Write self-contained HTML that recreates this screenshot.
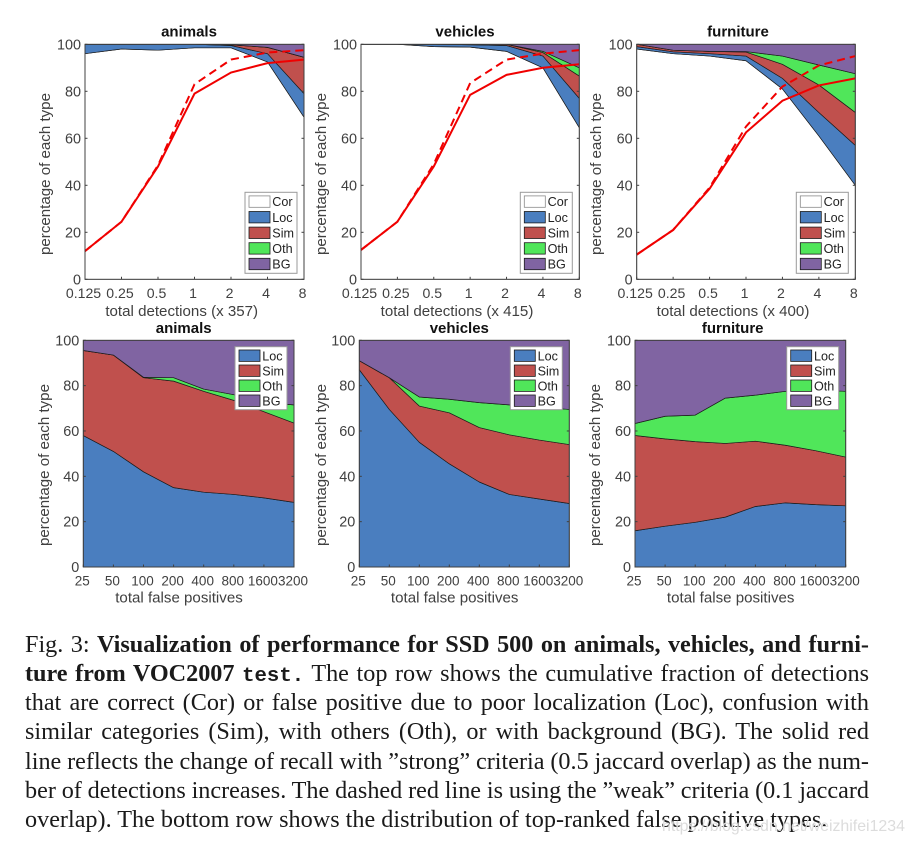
<!DOCTYPE html>
<html lang="en">
<head>
<meta charset="utf-8">
<title>SSD 500 performance visualization</title>
<style>
html,body{margin:0;padding:0;background:#fff;}
#page{position:relative;width:914px;height:845px;overflow:hidden;background:#fff;}
#charts{position:absolute;left:0;top:0;filter:blur(0.35px);}
svg text{font-family:"Liberation Sans",sans-serif;fill:#404040;}
.cap{position:absolute;left:25px;width:844px;font-family:"Liberation Serif",serif;font-size:24.2px;line-height:29px;color:#1a1a1a;text-align:justify;text-align-last:justify;white-space:normal;word-spacing:-1.5px;filter:blur(0.3px);}
.cap.last{text-align-last:left;white-space:nowrap;word-spacing:0;}
.cap tt{font-family:"Liberation Mono",monospace;font-size:20.7px;font-weight:bold;}
#watermark{position:absolute;left:662px;top:818px;font-family:"Liberation Sans",sans-serif;font-size:15.9px;color:#dcdcdc;white-space:nowrap;}
</style>
</head>
<body>
<div id="page">
<svg id="charts" width="914" height="620" xmlns="http://www.w3.org/2000/svg"></svg>
<div class="cap" style="top:629.5px">Fig. 3: <b>Visualization of performance for SSD 500 on animals, vehicles, and furni-</b></div>
<div class="cap" style="top:658.5px"><b>ture from VOC2007 <tt>test.</tt></b> The top row shows the cumulative fraction of detections</div>
<div class="cap" style="top:688px">that are correct (Cor) or false positive due to poor localization (Loc), confusion with</div>
<div class="cap" style="top:717px">similar categories (Sim), with others (Oth), or with background (BG). The solid red</div>
<div class="cap" style="top:746.5px">line reflects the change of recall with ”strong” criteria (0.5 jaccard overlap) as the num-</div>
<div class="cap" style="top:775.5px">ber of detections increases. The dashed red line is using the ”weak” criteria (0.1 jaccard</div>
<div class="cap last" style="top:804.5px">overlap). The bottom row shows the distribution of top-ranked false positive types.</div>
<div id="watermark">https://blog.csdn.net/weizhifei1234</div>
</div>
<script>
// Category and tick labels
const detectionTicks = ['0.125','0.25','0.5','1','2','4','8'];
const falsePositiveTicks = ['25','50','100','200','400','800','1600','3200'];
const percentTicks = [0,20,40,60,80,100];
const topLegend = ['Cor','Loc','Sim','Oth','BG'];
const bottomLegend = ['Loc','Sim','Oth','BG'];

// Top row: share of each detection type (%)
const animalsTopCor = [96,98,97.5,98.5,98.5,92.5,69];
const animalsTopLoc = [4,2,2.5,1.5,1,3.5,10];
const animalsTopSim = [0,0,0,0,0.3,2.7,15.5];
const animalsTopOth = [0,0,0,0,0,0,0];
const animalsTopBg = [0,0,0,0,0.2,1.3,5.5];
const animalsStrong = [12,24.5,48,79,88,92,93.5];
const animalsWeak = [12,24.5,48.5,83,93.5,96.5,97.5];

const vehiclesTopCor = [100,100,99,98.8,97,90,64.5];
const vehiclesTopLoc = [0,0,1,1,2.5,5,12.5];
const vehiclesTopSim = [0,0,0,0.2,0.5,1.5,9.5];
const vehiclesTopOth = [0,0,0,0,0,0.5,3.5];
const vehiclesTopBg = [0,0,0,0,0,3,10];
const vehiclesStrong = [12.5,24.5,48,78.5,87,90,91.5];
const vehiclesWeak = [12.5,24.5,49,83.5,93.5,96,97.5];

const furnitureTopCor = [98,96,95,93,81,61,40];
const furnitureTopLoc = [1,0.8,1,2,4.5,10,17];
const furnitureTopSim = [1,0.7,1,1.7,6,11.7,14];
const furnitureTopOth = [0,0,0,0.2,3.5,8.5,16.5];
const furnitureTopBg = [0,2.5,3,3.1,5,8.8,12.5];
const furnitureStrong = [10.5,21,38.5,62.5,76,82.5,85.5];
const furnitureWeak = [10.5,21,39,65,82,91,95];

// Bottom row: share of each false positive type (%)
const animalsFpLoc = [58,51,42,35,33,32,30.5,28.5];
const animalsFpSim = [37.5,42.5,41.5,47,44.5,41.5,38,35];
const animalsFpOth = [0,0,0.2,1.5,1,2.5,4,8];
const animalsFpBg = [4.5,6.5,16.3,16.5,21.5,24,27.5,28.5];

const vehiclesFpLoc = [87,69.5,55,45.5,37.5,32,30,28];
const vehiclesFpSim = [4,14,16,22.5,24,26.3,26,26];
const vehiclesFpOth = [0,0,4,6,11,13.2,14.5,15.5];
const vehiclesFpBg = [9,16.5,25,26,27.5,28.5,29.5,30.5];

const furnitureFpLoc = [16,18,19.7,22,26.7,28.3,27.5,27];
const furnitureFpSim = [42,38.5,35.6,32.5,28.8,25.4,23.8,21.5];
const furnitureFpOth = [5.3,10,11.7,20,20.3,23.8,26.7,29];
const furnitureFpBg = [36.7,33.5,33,25.5,24.2,22.5,22,22.5];

const colors = {Cor:'#ffffff',Loc:'#4a7ebf',Sim:'#c0504d',Oth:'#50e65a',BG:'#8064a2'};
const svg = document.getElementById('charts');
const NS = 'http://www.w3.org/2000/svg';

function make(tag, attrs, text){
  const el = document.createElementNS(NS, tag);
  for (const k in attrs) el.setAttribute(k, attrs[k]);
  if (text !== undefined) el.textContent = text;
  svg.appendChild(el);
  return el;
}

function drawPanel(p){
  const count = p.ticks.length;
  const xAt = i => p.x0 + i * (p.x1 - p.x0) / (count - 1);
  const yAt = v => p.y1 - v * (p.y1 - p.y0) / 100;

  // stacked areas
  let lower = p.ticks.map(() => 0);
  p.layers.forEach(layer => {
    const upper = lower.map((v, i) => v + layer.values[i]);
    const pts = upper.map((v, i) => xAt(i).toFixed(2) + ',' + yAt(v).toFixed(2));
    for (let i = count - 1; i >= 0; i--) pts.push(xAt(i).toFixed(2) + ',' + yAt(lower[i]).toFixed(2));
    const area = make('polygon', {points: pts.join(' '), fill: colors[layer.name], stroke: '#1c1c1c', 'stroke-width': 0.7, 'stroke-linejoin': 'round'});
    
    
    lower = upper;
  });

  // recall lines
  if (p.weak) {
    const weak = make('polyline', {points: p.weak.map((v, i) => xAt(i).toFixed(2) + ',' + yAt(v).toFixed(2)).join(' '), fill: 'none', stroke: '#f00000', 'stroke-width': 2, 'stroke-dasharray': '8 5'});
    
    
  }
  if (p.strong) {
    const strong = make('polyline', {points: p.strong.map((v, i) => xAt(i).toFixed(2) + ',' + yAt(v).toFixed(2)).join(' '), fill: 'none', stroke: '#f00000', 'stroke-width': 2});
    
    
  }

  // axes box
  const box = make('rect', {x: p.x0, y: p.y0, width: p.x1 - p.x0, height: p.y1 - p.y0, fill: 'none', stroke: '#404040', 'stroke-width': 1});
  
  

  // x ticks
  p.ticks.forEach((label, i) => {
    const x = xAt(i);
    const mark = make('line', {x1: x, x2: x, y1: p.y1, y2: p.y1 - 2.5, stroke: '#404040', 'stroke-width': 1});
    
    
    const t = make('text', {x: x + p.tickShift, y: p.y1 + 18.5, 'font-size': p.tickSize, 'text-anchor': 'middle'}, label);
    
    
  });

  // y ticks
  percentTicks.forEach(v => {
    const y = yAt(v);
    const left = make('line', {x1: p.x0, x2: p.x0 + 2.5, y1: y, y2: y, stroke: '#404040', 'stroke-width': 1});
    
    
    const right = make('line', {x1: p.x1, x2: p.x1 - 2.5, y1: y, y2: y, stroke: '#404040', 'stroke-width': 1});
    
    
    const t = make('text', {x: p.x0 - 4, y: y + 5, 'font-size': 14.4, 'text-anchor': 'end'}, String(v));
    
    
  });

  // titles
  const title = make('text', {x: p.titleX, y: p.titleY, 'font-size': 15, 'font-weight': 'bold', 'text-anchor': 'middle', style: 'fill:#111'}, p.title);
  
  
  const xLabel = make('text', {x: p.xLabelX, y: p.xLabelY, 'font-size': 15.1, 'text-anchor': 'middle'}, p.xLabel);
  
  
  const yLabel = make('text', {x: 0, y: 0, 'font-size': 15.1, 'text-anchor': 'middle', transform: 'translate(' + p.yLabelX + ',' + p.yLabelY + ') rotate(-90)'}, 'percentage of each type');
  
  

  // legend
  const rows = p.legend.length;
  const rowH = p.legendRow;
  const bw = 52, bh = rows * rowH + 3;
  const bx = p.x1 - 7 - bw, by = p.legendTop;
  const frame = make('rect', {x: bx, y: by, width: bw, height: bh, fill: '#fff', stroke: '#9a9a9a', 'stroke-width': 1});
  
  
  p.legend.forEach((name, i) => {
    const cy = by + 1.5 + rowH * (i + 0.5);
    const sw = make('rect', {x: bx + 4, y: cy - 5.7, width: 21, height: 11.4, fill: colors[name], stroke: name === 'Cor' ? '#8a8a8a' : '#1c1c1c', 'stroke-width': 0.8});
    
    
    const t = make('text', {x: bx + 27.3, y: cy + 4.6, 'font-size': 12.6, style: 'fill:#222'}, name);
    
    
  });
}

const TOP = {y0: 44.3, y1: 279.3, ticks: detectionTicks, legend: topLegend, legendRow: 15.6, legendTop: 192.3, titleY: 36.5, xLabelY: 316, yLabelY: 174, tickSize: 14.1, tickShift: -1.5};
const BOT = {y0: 340.3, y1: 567, ticks: falsePositiveTicks, legend: bottomLegend, legendRow: 15, legendTop: 346.7, titleY: 333, xLabelY: 602.5, yLabelY: 465, tickSize: 13.5, tickShift: -1};

drawPanel({...TOP, id: 'top-animals', title: 'animals', x0: 85, x1: 304, titleX: 189, xLabel: 'total detections (x 357)', xLabelX: 181.7, yLabelX: 50,
  layers: [{name:'Cor',values:animalsTopCor},{name:'Loc',values:animalsTopLoc},{name:'Sim',values:animalsTopSim},{name:'Oth',values:animalsTopOth},{name:'BG',values:animalsTopBg}],
  strong: animalsStrong, weak: animalsWeak});
drawPanel({...TOP, id: 'top-vehicles', title: 'vehicles', x0: 361, x1: 579.3, titleX: 465, xLabel: 'total detections (x 415)', xLabelX: 457, yLabelX: 326,
  layers: [{name:'Cor',values:vehiclesTopCor},{name:'Loc',values:vehiclesTopLoc},{name:'Sim',values:vehiclesTopSim},{name:'Oth',values:vehiclesTopOth},{name:'BG',values:vehiclesTopBg}],
  strong: vehiclesStrong, weak: vehiclesWeak});
drawPanel({...TOP, id: 'top-furniture', title: 'furniture', x0: 636.7, x1: 855.3, titleX: 738, xLabel: 'total detections (x 400)', xLabelX: 733, yLabelX: 601,
  layers: [{name:'Cor',values:furnitureTopCor},{name:'Loc',values:furnitureTopLoc},{name:'Sim',values:furnitureTopSim},{name:'Oth',values:furnitureTopOth},{name:'BG',values:furnitureTopBg}],
  strong: furnitureStrong, weak: furnitureWeak});
drawPanel({...BOT, id: 'bottom-animals', title: 'animals', x0: 83.3, x1: 294, titleX: 183.7, xLabel: 'total false positives', xLabelX: 179, yLabelX: 49,
  layers: [{name:'Loc',values:animalsFpLoc},{name:'Sim',values:animalsFpSim},{name:'Oth',values:animalsFpOth},{name:'BG',values:animalsFpBg}]});
drawPanel({...BOT, id: 'bottom-vehicles', title: 'vehicles', x0: 359.3, x1: 569.3, titleX: 459.3, xLabel: 'total false positives', xLabelX: 454.7, yLabelX: 326,
  layers: [{name:'Loc',values:vehiclesFpLoc},{name:'Sim',values:vehiclesFpSim},{name:'Oth',values:vehiclesFpOth},{name:'BG',values:vehiclesFpBg}]});
drawPanel({...BOT, id: 'bottom-furniture', title: 'furniture', x0: 635, x1: 845.7, titleX: 732.7, xLabel: 'total false positives', xLabelX: 730.7, yLabelX: 600,
  layers: [{name:'Loc',values:furnitureFpLoc},{name:'Sim',values:furnitureFpSim},{name:'Oth',values:furnitureFpOth},{name:'BG',values:furnitureFpBg}]});
</script>
</body>
</html>
